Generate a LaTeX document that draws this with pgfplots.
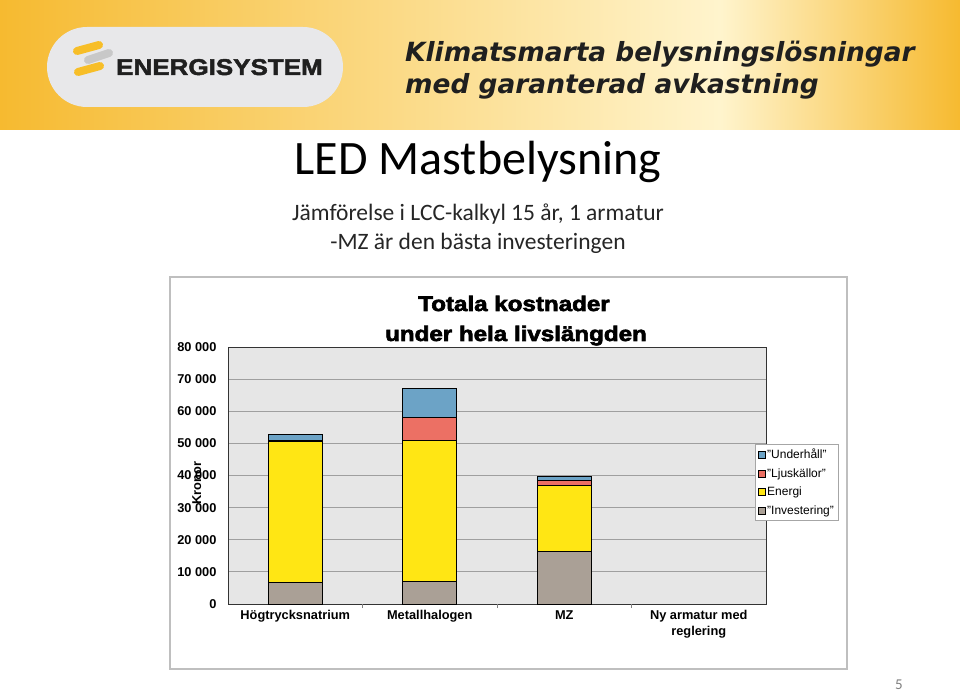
\documentclass[border=0pt]{standalone}
\usepackage{pgfplots}
\pgfplotsset{compat=1.18}
\usepackage{fontspec}
\setmainfont{Liberation Sans}
\newfontfamily\carlito{Carlito}
\newfontfamily\bannerfont{DejaVu Sans}
\newfontfamily\blk{Liberation Sans}[BoldFeatures={FakeBold=3,FakeStretch=1.15}]
\newfontfamily\logofont{Liberation Sans}[BoldFeatures={FakeBold=2,FakeStretch=1.14}]
\definecolor{orng}{RGB}{246,186,48}
\definecolor{lite}{RGB}{255,244,205}
\definecolor{pill}{RGB}{232,232,234}
\definecolor{logoy}{RGB}{247,190,40}
\definecolor{logog}{RGB}{200,200,200}
\definecolor{cund}{RGB}{108,163,198}
\definecolor{cljus}{RGB}{236,112,100}
\definecolor{cen}{RGB}{255,230,20}
\definecolor{cinv}{RGB}{170,160,150}
\definecolor{plotbg}{RGB}{230,230,230}
\begin{document}
\begin{tikzpicture}[x=1pt,y=1pt]
\useasboundingbox (0,0) rectangle (960,694);
\fill[white] (0,0) rectangle (960,694);
% banner
\shade[left color=orng, right color=lite] (0,564) rectangle (720,694);
\shade[left color=lite, right color=orng] (720,564) rectangle (960,694);
\fill[pill, rounded corners=40pt] (47,587) rectangle (343,667);
\draw[logog, line width=8pt, line cap=round] (88,634) -- (109,641);
\draw[logoy, line width=8pt, line cap=round] (77,643) -- (99,649);
\draw[logoy, line width=8pt, line cap=round] (78,622) -- (100,628);
\node[anchor=base west, inner sep=0, text=black!88, font=\logofont\bfseries\fontsize{22.8}{22.8}\selectfont] at (116,619) {ENERGISYSTEM};
\node[anchor=base west, inner sep=0, text=black!88, font=\bannerfont\bfseries\itshape\fontsize{26.4}{26.4}\selectfont] at (405,632) {Klimatsmarta belysningslösningar};
\node[anchor=base west, inner sep=0, text=black!88, font=\bannerfont\bfseries\itshape\fontsize{26.4}{26.4}\selectfont] at (405,600) {med garanterad avkastning};
% titles
\node[anchor=base, inner sep=0, font=\carlito\fontsize{48}{48}\selectfont] at (478,519) {LED Mastbelysning};
\node[anchor=base, inner sep=0, text=black!85, font=\carlito\fontsize{23.5}{23.5}\selectfont] at (478,473) {Jämförelse i LCC-kalkyl 15 år, 1 armatur};
\node[anchor=base, inner sep=0, text=black!85, font=\carlito\fontsize{23.5}{23.5}\selectfont] at (478,444) {-MZ är den bästa investeringen};
\node[anchor=base, inner sep=0, text=gray, font=\carlito\fontsize{15}{15}\selectfont] at (899,5) {5};
% chart box
\draw[fill=white, draw=black!25, line width=1.2pt] (170,25) rectangle (847,417);
\node[anchor=base, inner sep=0, font=\blk\bfseries\fontsize{21}{21}\selectfont] at (514,383) {Totala kostnader};
\node[anchor=base, inner sep=0, font=\blk\bfseries\fontsize{21}{21}\selectfont] at (516,353) {under hela livslängden};
\begin{axis}[
 at={(228pt,90pt)}, anchor=south west,
 scale only axis, width=538pt, height=257pt,
 xmin=-0.5, xmax=3.5, ymin=0, ymax=80000,
 ybar stacked, bar width=54pt,
 scaled y ticks=false,
 axis background/.style={fill=plotbg},
 axis line style={black!80, line width=0.8pt},
 ymajorgrids, grid style={gray!75, line width=0.9pt},
 ytick={0,10000,20000,30000,40000,50000,60000,70000,80000},
 yticklabels={0,10 000,20 000,30 000,40 000,50 000,60 000,70 000,80 000},
 xtick={0,1,2,3},
 xticklabels={Högtrycksnatrium,Metallhalogen,MZ,{Ny armatur med\\reglering}},
 xtick pos=bottom, ytick pos=left,
 major tick length=0pt,
 ticklabel style={font=\bfseries\fontsize{12.8}{15.5}\selectfont},
 xticklabel style={align=center, anchor=north, yshift=-3pt},
 yticklabel style={xshift=-8pt},
 extra x ticks={0.5,1.5,2.5}, extra x tick labels={},
 extra x tick style={major tick length=4pt, tick align=outside, tick style={gray}},
 ylabel={Kronor},
 ylabel style={at={(axis description cs:-0.058,0.47)}, anchor=center, font=\bfseries\fontsize{12.8}{14}\selectfont},
 legend style={at={(0.9796,0.6226)}, anchor=north west, draw=gray!70, fill=white, font=\fontsize{12}{13}\selectfont, row sep=4.5pt, inner sep=2.5pt, cells={anchor=west}},
 reverse legend,
 legend image code/.code={\draw[#1, line width=0.5pt] (0pt,-3.5pt) rectangle (7pt,3.5pt);},
 clip=false,
]
\addplot[fill=cinv, draw=black, line width=0.8pt] coordinates {(0,6600) (1,6900) (2,16300)};
\addlegendentry{"Investering"}
\addplot[fill=cen, draw=black, line width=0.8pt] coordinates {(0,43900) (1,43900) (2,20600)};
\addlegendentry{Energi}
\addplot[fill=cljus, draw=black, line width=0.8pt] coordinates {(0,500) (1,7200) (2,1700)};
\addlegendentry{"Ljuskällor"}
\addplot[fill=cund, draw=black, line width=0.8pt] coordinates {(0,1700) (1,9000) (2,1100)};
\addlegendentry{"Underhåll"}
\end{axis}
\end{tikzpicture}
\end{document}
